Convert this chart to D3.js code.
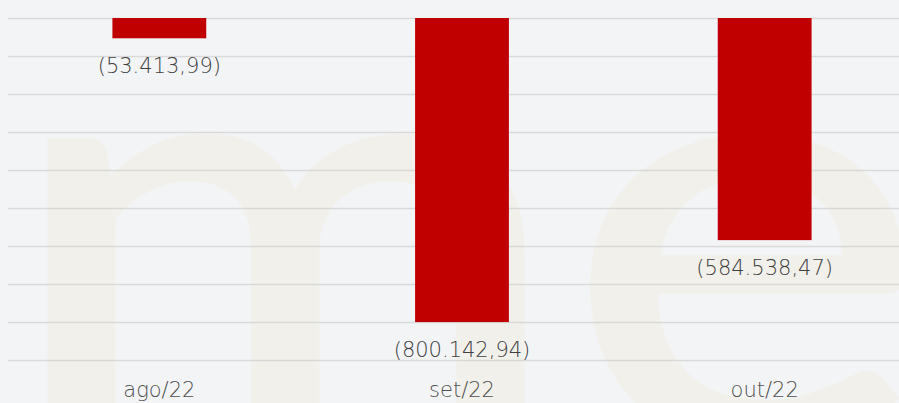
<!DOCTYPE html>
<html>
<head>
  <meta charset="utf-8">
  <title>Resultado mensal</title>
  <style>
  body { margin: 0; background: #f3f4f6; }
  svg { display: block; }
  </style>
</head>
<body>
  <svg width="899" height="403"></svg>
  <script src="https://d3js.org/d3.v7.min.js"></script>
  <script>
    // data
    var months = ["ago/22", "set/22", "out/22"];
    var values = [-53413.99, -800142.94, -584538.47];
    var gridTicks = [0, -100000, -200000, -300000, -400000, -500000, -600000, -700000, -800000, -900000];

    var svg = d3.select("svg");
    var W = 899, H = 403;

    var x = d3.scaleBand().domain(months).range([8, 916]).paddingInner(0.69).paddingOuter(0.345);
    var y = d3.scaleLinear().domain([0, -900000]).range([18, 360]);

    var fmt = d3.formatLocale({ decimal: ",", thousands: ".", grouping: [3], currency: ["R$", ""] }).format(",.2f");

    // background
    svg.append("rect").attr("width", W).attr("height", H).attr("fill", "#f3f4f6");

    // watermark
    svg.append("text")
      .attr("transform", "translate(-8,0) scale(1.16,1)")
      .attr("x", 9).attr("y", 440)
      .attr("fill", "#f1f0ea")
      .attr("stroke", "#f1f0ea")
      .attr("stroke-width", 6)
      .style("font-family", "Lato, sans-serif")
      .style("font-size", "590px")
      .text("me");

    // grid lines
    svg.append("g")
      .attr("transform", "translate(8,0)")
      .call(d3.axisLeft(y).tickValues(gridTicks).tickSize(-(W - 8)).tickFormat(""))
      .call(g => g.select(".domain").remove())
      .selectAll("line")
      .attr("stroke", "#d9d9d9")
      .attr("stroke-width", 1.5);

    // bars
    svg.append("g").selectAll("rect")
      .data(values)
      .join("rect")
      .attr("x", (d, i) => x(months[i]))
      .attr("width", x.bandwidth())
      .attr("y", y(0))
      .attr("height", d => y(d) - y(0))
      .attr("fill", "#c00000");

    var labelFont = "'DejaVu Sans', sans-serif";

    // value labels
    svg.append("g").selectAll("text")
      .data(values)
      .join("text")
      .attr("x", (d, i) => x(months[i]) + x.bandwidth() / 2)
      .attr("y", d => y(d) + 35)
      .attr("text-anchor", "middle")
      .style("font-family", labelFont)
      .style("font-weight", 200)
      .style("font-size", "21px")
      .style("fill", "#404040")
      .text(d => "(" + fmt(Math.abs(d)) + ")");

    // x labels
    svg.append("g")
      .attr("transform", "translate(0,397)")
      .call(d3.axisBottom(x).tickSize(0).tickPadding(0))
      .call(g => g.select(".domain").remove())
      .selectAll("text")
      .attr("dy", 0)
      .style("font-family", labelFont)
      .style("font-weight", 200)
      .style("font-size", "21px")
      .style("fill", "#505050");
  </script>
</body>
</html>
